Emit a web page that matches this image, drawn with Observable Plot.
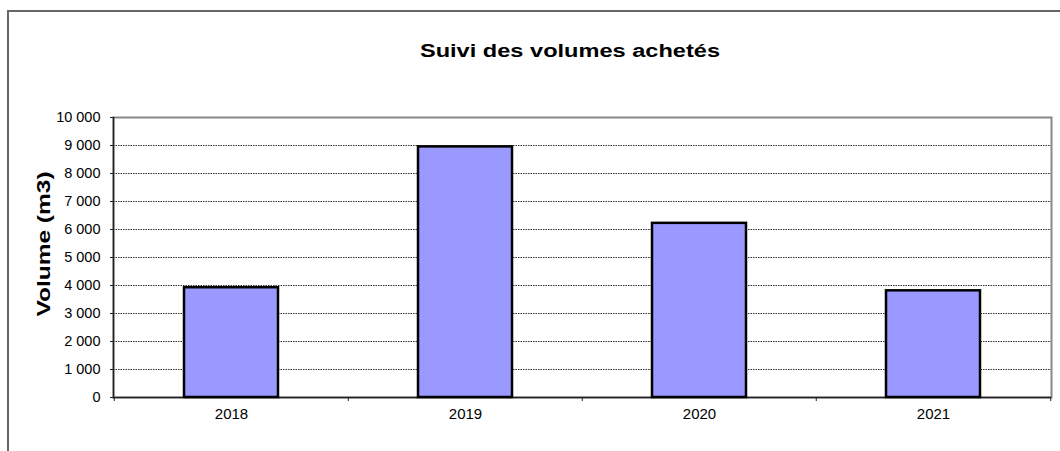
<!DOCTYPE html>
<html>
<head>
<meta charset="utf-8">
<script src="https://cdn.jsdelivr.net/npm/d3@7"></script>
<script src="https://cdn.jsdelivr.net/npm/@observablehq/plot@0.6"></script>
<style>
  html, body { margin: 0; padding: 0; background: #fff; }
  #wrap { position: relative; width: 1060px; height: 451px; overflow: hidden; font-family: "Liberation Sans", Arial, sans-serif; }
  #chart { position: absolute; left: 0; top: 0; }
  #border { position: absolute; left: 7px; top: 10px; width: 1200px; height: 600px; border: 2px solid #666; pointer-events: none; }
  #title { position: absolute; left: 570px; top: 42px; font-size: 18px; line-height: 18px; font-weight: bold; white-space: nowrap; color: #000;
           transform: translateX(-50%) scaleX(1.31); }
  #ylabel { position: absolute; left: 43.5px; top: 244px; font-size: 18px; line-height: 18px; font-weight: bold; white-space: nowrap; color: #000;
            transform: translate(-50%, -50%) rotate(-90deg) scaleX(1.36); }
</style>
</head>
<body>
<div id="wrap">
  <div id="chart"></div>
  <div id="border"></div>
  <div id="title">Suivi des volumes achetés</div>
  <div id="ylabel">Volume (m3)</div>
</div>
<script>
const years = ["2018", "2019", "2020", "2021"];
const volumes = [3920, 8950, 6220, 3810];
const yTicks = [0, 1000, 2000, 3000, 4000, 5000, 6000, 7000, 8000, 9000, 10000];

const data = years.map((year, i) => ({year, volume: volumes[i]}));
const fmt = d => d3.format(",")(d).replace(/,/g, " ");

const chart = Plot.plot({
  width: 1060,
  height: 451,
  marginLeft: 113,
  marginRight: 9,
  marginTop: 117,
  marginBottom: 54,
  style: {background: "transparent", fontFamily: "'Liberation Sans', Arial, sans-serif", color: "#000"},
  x: {domain: years, paddingInner: 0.6, paddingOuter: 0.3, label: null, axis: null},
  y: {domain: [0, 10000], label: null, axis: null},
  marks: [
    Plot.ruleY(yTicks.slice(1), {stroke: "#333", strokeWidth: 1, strokeDasharray: "1.5,1"}),
    Plot.frame({stroke: "#888", strokeWidth: 2}),
    Plot.frame({anchor: "left", stroke: "#222", strokeWidth: 1.5}),
    Plot.ruleY([0], {stroke: "#222", strokeWidth: 1.5}),
    Plot.barY(data, {x: "year", y: "volume", fill: "#9999ff", stroke: "#000", strokeWidth: 2.5}),
    Plot.ruleX(years, {x: d => d, dx: -117.25, insetTop: 280, insetBottom: -4, stroke: "#222"}),
    Plot.ruleX(years.slice(-1), {x: d => d, dx: 117.25, insetTop: 280, insetBottom: -4, stroke: "#222"}),
    Plot.axisY({ticks: yTicks, tickFormat: fmt, tickSize: 3, tickPadding: 10, fontSize: 14.5, stroke: "#222"}),
    Plot.axisX({tickSize: 0, tickPadding: 11, fontSize: 15})
  ]
});
document.getElementById("chart").appendChild(chart);
</script>
</body>
</html>
